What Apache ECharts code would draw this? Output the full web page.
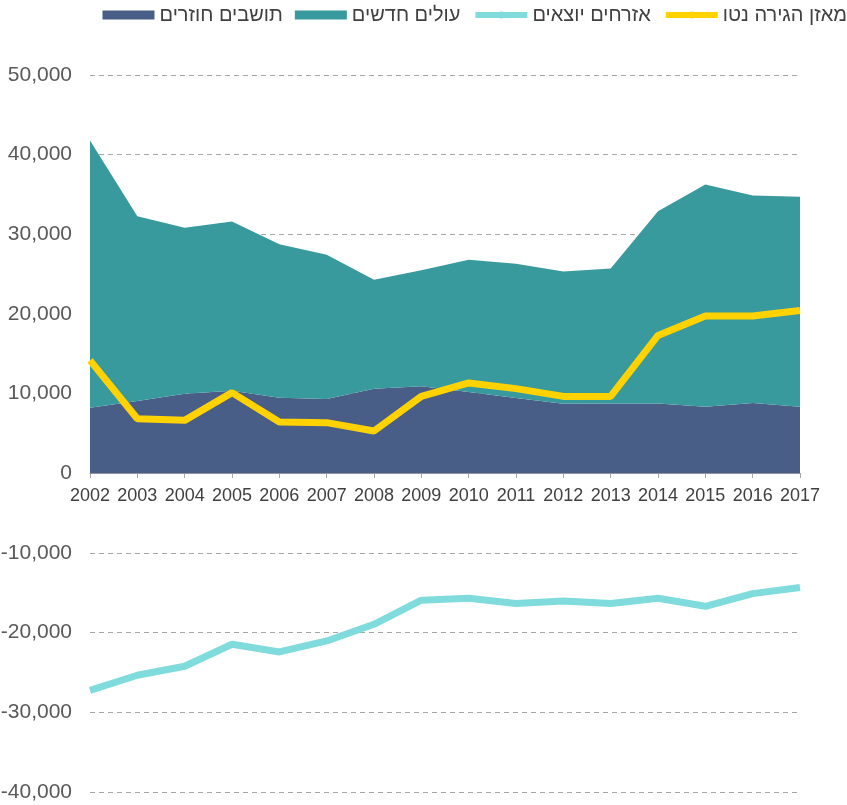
<!DOCTYPE html>
<html>
<head>
<meta charset="utf-8">
<script src="https://cdn.jsdelivr.net/npm/echarts@6/dist/echarts.min.js"></script>
<style>
  html, body { margin: 0; padding: 0; background: #fff; }
  #main { width: 847px; height: 805px; }
</style>
</head>
<body>
<div id="main"></div>
<script>
var years = ['2002','2003','2004','2005','2006','2007','2008','2009','2010','2011','2012','2013','2014','2015','2016','2017'];
var returning = [8240, 9070, 10000, 10380, 9500, 9330, 10630, 10920, 10200, 9450, 8740, 8780, 8780, 8370, 8820, 8370];
var immigrants = [33540, 23210, 20830, 21240, 19270, 18110, 13670, 14580, 16600, 16850, 16610, 16940, 24130, 27890, 26060, 26350];
var emigrants = [-27250, -25350, -24220, -21450, -22420, -21040, -18950, -15930, -15680, -16350, -16020, -16350, -15680, -16690, -15100, -14340];
var netMigration = [14180, 6860, 6650, 10130, 6440, 6360, 5310, 9660, 11350, 10630, 9660, 9660, 17310, 19740, 19740, 20450];

var names = ['תושבים חוזרים', 'עולים חדשים', 'אזרחים יוצאים', 'מאזן הגירה נטו'];
var colors = ['#485e86', '#399a9d', '#80dcdc', '#ffd200'];

var myChart = echarts.init(document.getElementById('main'));

// x axis sits on the zero line, 319px above the bottom of the grid
var option = {
  animation: false,
  textStyle: { fontFamily: 'Arial, "Liberation Sans", sans-serif' },
  legend: {
    data: [
      { name: names[0], icon: 'rect' },
      { name: names[1], icon: 'rect' },
      { name: names[2] },
      { name: names[3] }
    ],
    top: 5,
    right: 0,
    padding: 0,
    itemWidth: 52,
    itemHeight: 9,
    itemGap: 12,
    lineStyle: { width: 6 },
    textStyle: { color: '#404040', fontSize: 20 }
  },
  grid: { left: 90, right: 47, top: 75, bottom: 13, outerBoundsMode: 'none' },
  xAxis: {
    type: 'category',
    data: years,
    boundaryGap: false,
    offset: -319,
    axisLine: { onZero: false, lineStyle: { color: '#a6a6a6' } },
    axisTick: { show: true, alignWithLabel: true, length: 5, lineStyle: { color: '#a6a6a6' } },
    axisLabel: {
      color: '#404040',
      fontSize: 18,
      margin: 14,
      interval: 0
    },
    splitLine: { show: false }
  },
  yAxis: {
    type: 'value',
    min: -40000,
    max: 50000,
    interval: 10000,
    axisLine: { show: false },
    axisTick: { show: false },
    axisLabel: {
      color: '#595959',
      fontSize: 21,
      margin: 18,
      formatter: function (v) { return v.toLocaleString('en-US'); }
    },
    splitLine: { lineStyle: { color: '#a6a6a6', type: [5, 4] } }
  },
  series: [
    {
      name: names[0],
      type: 'line',
      stack: 'total',
      data: returning,
      symbol: 'none',
      lineStyle: { width: 0 },
      areaStyle: { color: colors[0], opacity: 1 },
      itemStyle: { color: colors[0] }
    },
    {
      name: names[1],
      type: 'line',
      stack: 'total',
      data: immigrants,
      symbol: 'none',
      lineStyle: { width: 0 },
      areaStyle: { color: colors[1], opacity: 1 },
      itemStyle: { color: colors[1] }
    },
    {
      name: names[2],
      type: 'line',
      data: emigrants,
      symbol: 'none',
      lineStyle: { width: 7, color: colors[2] },
      itemStyle: { color: colors[2] }
    },
    {
      name: names[3],
      type: 'line',
      data: netMigration,
      symbol: 'none',
      lineStyle: { width: 7, color: colors[3] },
      itemStyle: { color: colors[3] }
    }
  ]
};

myChart.setOption(option);
window.addEventListener('resize', function () {
  myChart.resize();
});
</script>
</body>
</html>
